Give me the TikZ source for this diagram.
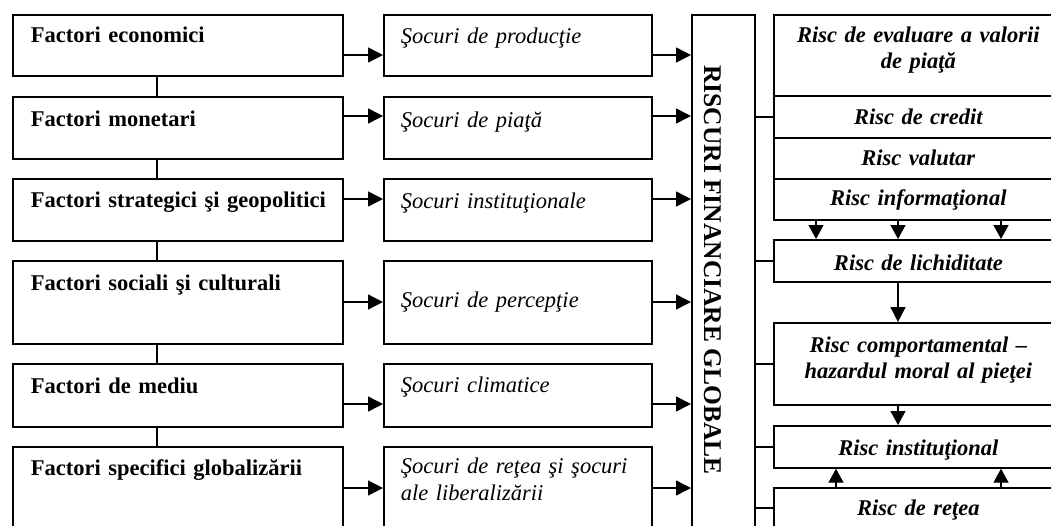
\documentclass[tikz,border=0pt]{standalone}
\usepackage{fontspec}
\setmainfont{Liberation Serif}
\usetikzlibrary{arrows.meta}
\begin{document}
\begin{tikzpicture}[x=1pt,y=-1pt,
  box/.style={draw, line width=1.7pt, inner ysep=0pt, anchor=north west},
  leftbox/.style={box, inner xsep=18pt, text width=294pt, align=left,
    font=\fontsize{22.5}{27}\bfseries\selectfont},
  midbox/.style={box, inner xsep=17pt, text width=234pt, align=left,
    font=\fontsize{22.5}{26.5}\itshape\selectfont},
  rightbox/.style={box, inner xsep=10pt, text width=269pt, align=center,
    font=\fontsize{22.5}{25.5}\bfseries\itshape\selectfont},
  line/.style={line width=1.4pt},
  arr/.style={line width=1.4pt, -{Triangle[length=15pt,width=15pt]}},
  sarr/.style={line width=1.4pt, -{Triangle[length=14pt,width=15pt]}}]
\useasboundingbox (0,0) rectangle (1051,525);
\clip (0,0) rectangle (1051,525);
% left column
\node[leftbox, text height=28pt, text depth=33pt] (L1) at (12,14) {Factori economici};
\node[leftbox, text height=30pt, text depth=32pt] (L2) at (12,96) {Factori monetari};
\node[leftbox, text height=29pt, text depth=33pt] (L3) at (12,178) {\mbox{Factori strategici şi geopolitici}};
\node[leftbox, text height=30pt, text depth=53pt] (L4) at (12,260) {Factori sociali şi culturali};
\node[leftbox, text height=30pt, text depth=33pt] (L5) at (12,363) {Factori de mediu};
\node[leftbox, text height=29pt, text depth=65pt] (L6) at (12,446) {Factori specifici globalizării};
% middle column
\node[midbox, text height=29pt, text depth=32pt] (M1) at (383,14) {Şocuri de producţie};
\node[midbox, text height=31pt, text depth=31pt] (M2) at (383,96) {Şocuri de piaţă};
\node[midbox, text height=30pt, text depth=32pt] (M3) at (383,178) {Şocuri instituţionale};
\node[midbox, text height=47pt, text depth=36pt] (M4) at (383,260) {Şocuri de percepţie};
\node[midbox, text height=29pt, text depth=34pt] (M5) at (383,363) {Şocuri climatice};
\node[midbox, text height=27pt, text depth=67pt] (M6) at (383,446) {Şocuri de reţea şi şocuri\\ale liberalizării};
% big box
\node[box, minimum width=63pt, minimum height=526pt, inner sep=0pt] (big) at (691,14) {};
\node[rotate=-90, anchor=base, inner sep=0pt, font=\fontsize{25.5}{30}\bfseries\selectfont]
  (bigtext) at (704,270) {RISCURI FINANCIARE GLOBALE};
% right column
\node[rightbox, text height=28pt, text depth=53pt] (RA) at (773,14) {Risc de evaluare a valorii\\de piaţă};
\node[rightbox, text height=29pt, text depth=13pt] (RB) at (773,95) {Risc de credit};
\node[rightbox, text height=28pt, text depth=13pt] (RC) at (773,137) {Risc valutar};
\node[rightbox, text height=27pt, text depth=14pt] (RD) at (773,178) {Risc informaţional};
\node[rightbox, text height=31pt, text depth=11pt] (RE) at (773,239) {Risc de lichiditate};
\node[rightbox, text height=30pt, text depth=52pt] (RF) at (773,322) {Risc comportamental –\\hazardul moral al pieţei};
\node[rightbox, text height=30pt, text depth=12pt] (RG) at (773,425) {Risc instituţional};
\node[rightbox, text height=28pt, text depth=42pt] (RH) at (773,487) {Risc de reţea};
% row levels
\coordinate (r1) at (0,55);
\coordinate (r2) at (0,116);
\coordinate (r3) at (0,199);
\coordinate (r4) at (0,302);
\coordinate (r5) at (0,404);
\coordinate (r6) at (0,488);
\coordinate (vx) at (157,0);
% vertical links in left column
\draw[line] (L1.south -| vx) -- (L2.north -| vx);
\draw[line] (L2.south -| vx) -- (L3.north -| vx);
\draw[line] (L3.south -| vx) -- (L4.north -| vx);
\draw[line] (L4.south -| vx) -- (L5.north -| vx);
\draw[line] (L5.south -| vx) -- (L6.north -| vx);
% left -> middle -> big
\foreach \i in {1,...,6}{
  \draw[arr] (L\i.east |- r\i) -- (M\i.west |- r\i);
  \draw[arr] (M\i.east |- r\i) -- (big.west |- r\i);
}
% big -> right column
\draw[line] (big.east |- RB.west) -- (RB.west);
\draw[line] (big.east |- RE.west) -- (RE.west);
\draw[line] (big.east |- RF.west) -- (RF.west);
\draw[line] (big.east |- RG.west) -- (RG.west);
\coordinate (h8) at (0,508);
\draw[line] (big.east |- h8) -- (RH.west |- h8);
% arrows inside right column
\coordinate (a1) at (816,0);
\coordinate (a2) at (898,0);
\coordinate (a3) at (1001,0);
\coordinate (a4) at (836,0);
\draw[sarr] (RD.south -| a1) -- (RE.north -| a1);
\draw[sarr] (RD.south -| a2) -- (RE.north -| a2);
\draw[sarr] (RD.south -| a3) -- (RE.north -| a3);
\draw[arr] (RE.south -| a2) -- (RF.north -| a2);
\draw[sarr] (RF.south -| a2) -- (RG.north -| a2);
\draw[sarr] (RH.north -| a4) -- (RG.south -| a4);
\draw[sarr] (RH.north -| a3) -- (RG.south -| a3);
\end{tikzpicture}
\end{document}
